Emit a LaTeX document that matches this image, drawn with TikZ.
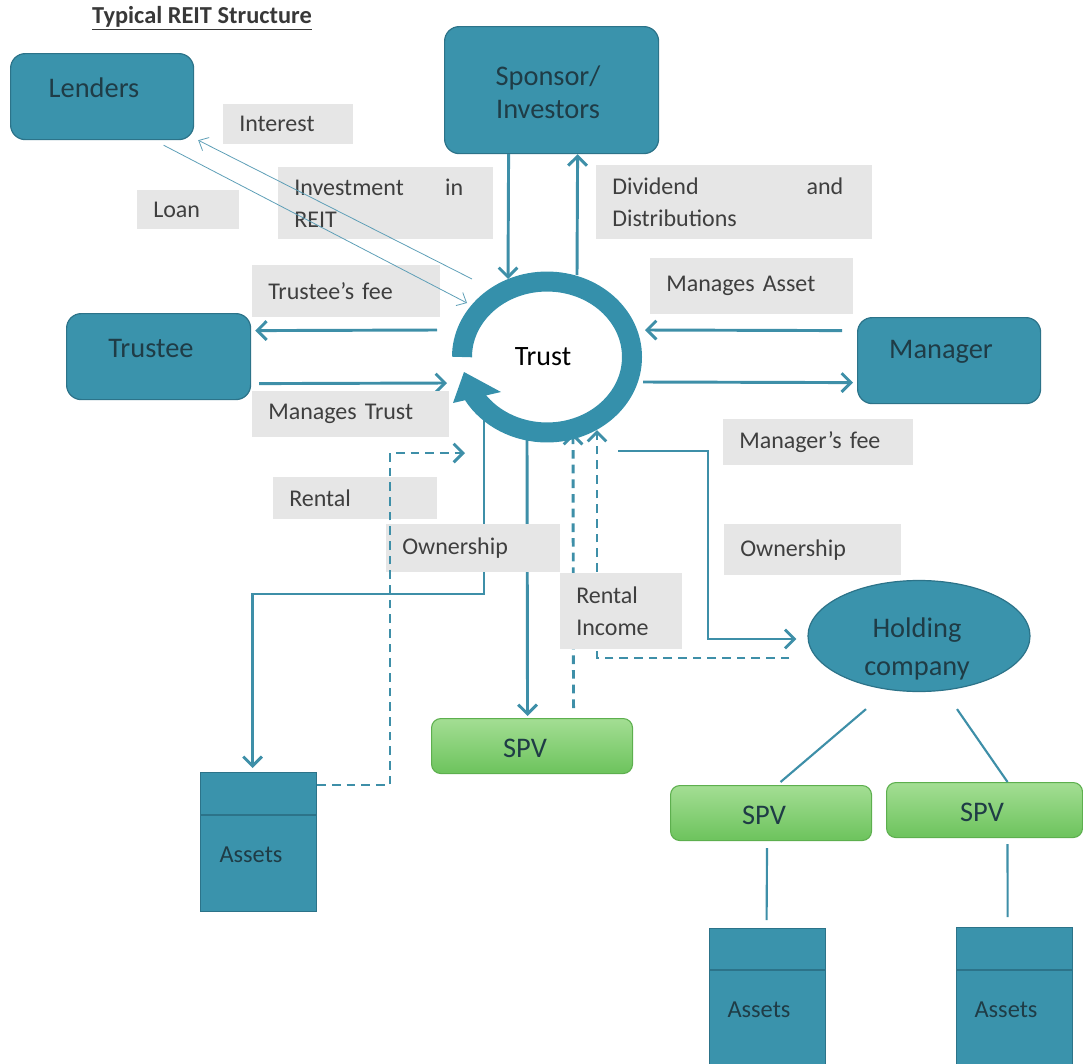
\documentclass[tikz,border=0pt]{standalone}
\usepackage{fontspec}
\setmainfont{Carlito}
\usetikzlibrary{arrows.meta,calc,shapes.geometric}
\definecolor{tealF}{HTML}{3A93AC}
\definecolor{tealB}{HTML}{2C7389}
\definecolor{lineC}{HTML}{3E8FA8}
\definecolor{ringC}{HTML}{3590AB}
\definecolor{thinC}{HTML}{5E9FB7}
\definecolor{boxT}{HTML}{1F3C46}
\definecolor{lblF}{HTML}{E6E6E6}
\definecolor{lblT}{HTML}{3F3F3F}
\definecolor{grnT}{HTML}{A3DE93}
\definecolor{grnB}{HTML}{6DC35D}
\definecolor{grnD}{HTML}{5DAF4E}
\def\PX{0.75pt}
\begin{document}
\begin{tikzpicture}[x=0.75pt,y=-0.75pt,
  tbox/.style={draw=tealB, line width=0.9pt, fill=tealF, rounded corners=11pt, anchor=north west, inner sep=0pt},
  btext/.style={text=boxT, font=\fontsize{21.3}{24.75}\selectfont, inner sep=0pt, align=center},
  atext/.style={text=boxT, font=\fontsize{18.3}{22}\selectfont, inner sep=0pt},
  lbl/.style={fill=lblF, anchor=north west, inner xsep=12pt, inner ysep=0pt, text=lblT, font=\fontsize{18}{23.5}\selectfont, align=left},
  spvbox/.style={draw=grnD, line width=0.8pt, top color=grnT, bottom color=grnB, rounded corners=7pt, anchor=north west, inner sep=0pt},
  assetbox/.style={draw=tealB, line width=0.9pt, fill=tealF, anchor=north west, inner sep=0pt},
  divider/.style={draw=tealB, line width=1.4pt},
  conn/.style={draw=lineC, line width=2.2pt, -{Straight Barb[length=7pt,width=14pt]}},
  dconn/.style={conn, dash pattern=on 6.5pt off 4.5pt},
  thinconn/.style={draw=thinC, line width=0.6pt, -{Straight Barb[length=6pt,width=11pt]}},
  plain/.style={draw=lineC, line width=1.6pt},
]
\useasboundingbox (0,0) rectangle (1083,1064);

% title
\node[font=\fontsize{18.3}{22}\selectfont\bfseries, text=black!78, inner sep=0pt] (title) at (202,18) {\underline{Typical REIT Structure}};

% rounded boxes
\node[tbox, minimum width=183*\PX, minimum height=86*\PX] (lenders) at (10,53) {};
\node[btext] (lendersT) at (94,88) {Lenders};
\node[tbox, minimum width=214*\PX, minimum height=127*\PX] (sponsor) at (444,26) {};
\node[btext] (sponsorT) at (548,92) {Sponsor/\\Investors};
\node[tbox, minimum width=184*\PX, minimum height=86*\PX] (trustee) at (66,313) {};
\node[btext] (trusteeT) at (151,348) {Trustee};
\node[tbox, minimum width=183*\PX, minimum height=86*\PX] (manager) at (857,317) {};
\node[btext] (managerT) at (941,352) {Manager};

% holding company
\node[ellipse, draw=tealB, line width=0.9pt, fill=tealF, minimum width=222*\PX, minimum height=111*\PX, inner sep=0pt] (holding) at (919,636) {};
\node[btext, font=\fontsize{21.3}{28.5}\selectfont] (holdingT) at (917,649) {Holding\\company};

% SPVs
\node[spvbox, minimum width=201*\PX, minimum height=55*\PX] (spvC) at (431,718) {};
\node[btext] (spvCT) at (525,748) {SPV};
\node[spvbox, minimum width=201*\PX, minimum height=55*\PX] (spvL) at (670,785) {};
\node[btext] (spvLT) at (764,815) {SPV};
\node[spvbox, minimum width=196*\PX, minimum height=55*\PX] (spvR) at (886,782) {};
\node[btext] (spvRT) at (982,812) {SPV};

% assets
\node[assetbox, minimum width=116*\PX, minimum height=139*\PX] (assetsA) at (200,772) {};
\draw[divider] ($(assetsA.north west)+(0,43)$) -- ($(assetsA.north east)+(0,43)$);
\node[atext] (assetsAT) at (251,855) {Assets};
\node[assetbox, minimum width=116*\PX, minimum height=140*\PX] (assetsB) at (709,928) {};
\draw[divider] ($(assetsB.north west)+(0,42)$) -- ($(assetsB.north east)+(0,42)$);
\node[atext] (assetsBT) at (759,1010) {Assets};
\node[assetbox, minimum width=116*\PX, minimum height=141*\PX] (assetsC) at (956,927) {};
\draw[divider] ($(assetsC.north west)+(0,43)$) -- ($(assetsC.north east)+(0,43)$);
\node[atext] (assetsCT) at (1006,1010) {Assets};

% ring centre
\coordinate (ring) at (547,357);

% connectors under the labels
\draw[conn] ($(ring)+(-63,58)$) -- ++(0,179) -| ($(assetsA.north)+(-6,-4)$);
\draw[conn] ($(ring)+(-20,83)$) -- ($(spvC.north)+(-4.5,-2)$);
\draw[dconn] ($(spvC.north)+(41.5,-10)$) -- ($(ring)+(26,76)$);
\draw[dconn] ($(holding.west)+(-18,22)$) -| ($(ring)+(50,73)$);
\draw[conn] ($(ring)+(71,94)$) -- ++(90,0) |- ($(holding.west)+(-11,3)$);

% sponsor
\draw[conn] ($(sponsor.south)+(-43,0)$) -- ($(ring)+(-39,-78)$);
\draw[conn] ($(ring)+(30,-82)$) -- ($(sponsor.south)+(26,0)$);
% trustee
\draw[conn] ($(ring)+(-110,-27)$) -- ($(trustee.east)+(4,-26)$);
\draw[conn] ($(trustee.east)+(8,27)$) -- ($(ring)+(-100,26)$);
% manager
\draw[conn] ($(manager.west)+(-15,-30)$) -- ($(ring)+(98,-27)$);
\draw[conn] ($(ring)+(96,25)$) -- ($(manager.west)+(-4,22)$);

% holding to SPVs to assets
\draw[plain] ($(holding.south)+(-53,17)$) -- ($(spvL.north)+(9.5,-3)$);
\draw[plain] ($(holding.south)+(38,17)$) -- ($(spvR.north)+(23,0)$);
\draw[plain] ($(spvL.south)+(-4,7)$) -- ($(assetsB.north)+(-1,-8)$);
\draw[plain] ($(spvR.south)+(23,6)$) -- ($(assetsC.north)+(-7,-10)$);

% the Trust ring
\draw[draw=ringC, line width=15pt] ($(ring)+(-85,0)$) arc[start angle=180, end angle=-150, x radius=63.75pt, y radius=56.6pt];
\fill[ringC] (464,372) -- (453,403) -- (501,392) -- cycle;
\node[text=black, font=\fontsize{21}{25}\selectfont, inner sep=0pt] (trust) at (543,357) {Trust};

% labels
\node[lbl, text width=(130-32)*\PX, minimum height=40*\PX] (lInterest) at (223,104) {Interest};
\node[lbl, text width=(215-32)*\PX, minimum height=72*\PX] (lInvest) at (278,167) {Investment\hfill in\kern10.5pt\\REIT};
\node[lbl, text width=(102-32)*\PX, minimum height=39*\PX] (lLoan) at (137,190) {Loan};
\node[lbl, text width=(188-32)*\PX, minimum height=52*\PX] (lTfee) at (252,265) {Trustee’s fee};
\node[lbl, text width=(197-32)*\PX, minimum height=46*\PX] (lMTrust) at (252,391) {Manages Trust};
\node[lbl, text width=(276-32)*\PX, minimum height=74*\PX] (lDiv) at (596,165) {Dividend\hfill and\kern9.75pt\\Distributions};
\node[lbl, text width=(203-32)*\PX, minimum height=56*\PX] (lMAsset) at (650,258) {Manages Asset};
\node[lbl, text width=(190-32)*\PX, minimum height=46*\PX] (lMfee) at (723,419) {Manager’s fee};
\node[lbl, text width=(164-32)*\PX, minimum height=42*\PX] (lRental) at (273,477) {Rental};
\node[lbl, text width=(174-32)*\PX, minimum height=48*\PX] (lOwnC) at (386,524) {Ownership};
\node[lbl, text width=(122-32)*\PX, minimum height=76*\PX] (lRInc) at (560,573) {Rental\\Income};
\node[lbl, text width=(177-32)*\PX, minimum height=51*\PX] (lOwnR) at (724,524) {Ownership};

% connectors over the labels
\draw[dconn] ($(assetsA.north east)+(0,13)$) -| ($(ring)+(-157,96)$) -- ($(ring)+(-82,96)$);
\draw[thinconn] ($(lenders.south)+(61.5,5)$) -- ($(ring)+(-80,-54)$);
\draw[thinconn] ($(ring)+(-75,-78)$) -- ($(lenders.south east)+(4,0)$);
\end{tikzpicture}
\end{document}
